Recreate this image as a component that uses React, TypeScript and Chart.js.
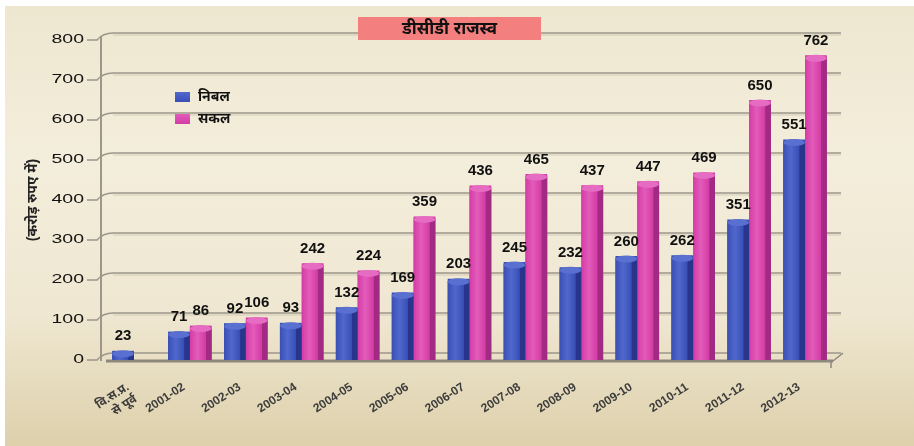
import React, { useEffect, useRef } from 'react';
import { Chart, registerables } from 'chart.js';

Chart.register(...registerables);

// ---------- data ----------
const categories: (string | string[])[] = [
  ['वि.स.प्र.', 'से पूर्व'],
  '2001-02', '2002-03', '2003-04', '2004-05', '2005-06', '2006-07',
  '2007-08', '2008-09', '2009-10', '2010-11', '2011-12', '2012-13',
];
const netValues: (number | null)[] = [23, 71, 92, 93, 132, 169, 203, 245, 232, 260, 262, 351, 551];
const grossValues: (number | null)[] = [null, 86, 106, 242, 224, 359, 436, 465, 437, 447, 469, 650, 762];
const seriesNames = ['निबल', 'सकल'];
const chartTitle = 'डीसीडी राजस्व';
const yAxisTitle = '(करोड़ रुपए में)';
const yMin = 0;
const yMax = 800;
const yStep = 100;

// ---------- styles ----------
const FONT = '"Liberation Sans", Arial, "Noto Sans", sans-serif';
const seriesStyles = [
  { base: '#3a4fb6', light: '#5068cc', dark: '#27368c', cap: '#5a70d0' },
  { base: '#d53ba5', light: '#e25cbb', dark: '#a12a82', cap: '#e56cc2' },
];

const bgPlugin = {
  id: 'bgPanel',
  beforeDraw(chart: any) {
    const { ctx, width, height } = chart;
    ctx.save();
    ctx.fillStyle = '#ffffff';
    ctx.fillRect(0, 0, width, height);
    const g = ctx.createLinearGradient(0, 6, 0, height);
    g.addColorStop(0, '#eee7d0');
    g.addColorStop(0.35, '#f3eddb');
    g.addColorStop(0.7, '#efe7d1');
    g.addColorStop(1, '#ddd0ab');
    ctx.fillStyle = g;
    ctx.fillRect(5, 6, width - 5, height - 6);
    ctx.restore();
  },
};

const gridPlugin = {
  id: 'grid3d',
  beforeDatasetsDraw(chart: any) {
    const { ctx, chartArea } = chart;
    const { left, right, top, bottom } = chartArea;
    const y = chart.scales.y;
    ctx.save();
    // vertical axis line
    ctx.strokeStyle = '#9c978a';
    ctx.lineWidth = 2;
    ctx.beginPath();
    ctx.moveTo(left - 5, top - 3);
    ctx.lineTo(left - 5, bottom + 1);
    ctx.stroke();
    y.ticks.forEach((t: any) => {
      const py = y.getPixelForValue(t.value);
      ctx.strokeStyle = '#9c978a';
      ctx.lineWidth = 1.6;
      ctx.beginPath();
      ctx.moveTo(left - 19, py);
      ctx.lineTo(left - 9, py);
      ctx.quadraticCurveTo(left - 3, py - 7, left + 7, py - 7);
      ctx.lineTo(right + 8, py - 7);
      ctx.stroke();
      if (t.value !== 0) {
        ctx.strokeStyle = 'rgba(120,110,90,0.25)';
        ctx.lineWidth = 1;
        ctx.beginPath();
        ctx.moveTo(left + 7, py - 5);
        ctx.lineTo(right + 8, py - 5);
        ctx.stroke();
      }
    });
    // floor front edge
    const py0 = y.getPixelForValue(0);
    ctx.strokeStyle = '#8d887c';
    ctx.lineWidth = 3;
    ctx.beginPath();
    ctx.moveTo(left, py0 + 1);
    ctx.lineTo(right, py0 + 1);
    ctx.stroke();
    ctx.lineWidth = 1.5;
    ctx.beginPath();
    ctx.moveTo(right, py0 + 1);
    ctx.lineTo(right + 10, py0 - 7);
    ctx.moveTo(right - 2, py0 + 1);
    ctx.lineTo(right - 2, py0 + 8);
    ctx.stroke();
    // y tick labels (wide face)
    ctx.fillStyle = '#111111';
    ctx.font = `13px ${FONT}`;
    ctx.textAlign = 'right';
    ctx.textBaseline = 'middle';
    y.ticks.forEach((t: any) => {
      const py = y.getPixelForValue(t.value);
      ctx.save();
      ctx.translate(left - 22, py - 0.5);
      ctx.scale(1.5, 1);
      ctx.fillText(String(t.value), 0, 0);
      ctx.restore();
    });
    ctx.restore();
  },
};

const barShadePlugin = {
  id: 'barShade',
  afterDatasetDraw(chart: any, args: any) {
    const { ctx } = chart;
    const st = seriesStyles[args.index];
    ctx.save();
    args.meta.data.forEach((el: any, i: number) => {
      const v = chart.data.datasets[args.index].data[i];
      if (v === null || v === undefined) return;
      const { x, y, base, width } = el.getProps(['x', 'y', 'base', 'width'], true);
      const l = x - width / 2;
      const g = ctx.createLinearGradient(l, 0, l + width, 0);
      g.addColorStop(0, st.base);
      g.addColorStop(0.35, st.light);
      g.addColorStop(0.72, st.base);
      g.addColorStop(0.76, st.dark);
      g.addColorStop(1, st.dark);
      ctx.fillStyle = g;
      ctx.fillRect(l, y + 2, width, base - y - 2);
      ctx.fillStyle = st.cap;
      ctx.beginPath();
      ctx.ellipse(x, y + 3, width / 2, 3.5, 0, 0, Math.PI * 2);
      ctx.fill();
    });
    ctx.restore();
  },
};

const labelPlugin = {
  id: 'valueLabels',
  afterDatasetsDraw(chart: any) {
    const { ctx } = chart;
    ctx.save();
    ctx.font = `bold 15px ${FONT}`;
    ctx.fillStyle = '#111111';
    ctx.textAlign = 'center';
    ctx.textBaseline = 'bottom';
    chart.data.datasets.forEach((ds: any, di: number) => {
      const meta = chart.getDatasetMeta(di);
      meta.data.forEach((el: any, i: number) => {
        const v = ds.data[i];
        if (v === null || v === undefined) return;
        ctx.fillText(String(v), el.x, el.y - 7);
      });
    });
    ctx.restore();
  },
};

const legendTitlePlugin = {
  id: 'legendTitle',
  afterDraw(chart: any) {
    const { ctx, chartArea } = chart;
    ctx.save();
    // legend
    chart.data.datasets.forEach((ds: any, i: number) => {
      const st = seriesStyles[i];
      const bx = chartArea.left + 69;
      const by = chartArea.top + 52 + i * 22;
      const g = ctx.createLinearGradient(0, by, 0, by + 10);
      g.addColorStop(0, st.light);
      g.addColorStop(1, st.base);
      ctx.fillStyle = g;
      ctx.fillRect(bx, by, 15, 10);
      ctx.fillStyle = '#111111';
      ctx.font = `bold 14px ${FONT}`;
      ctx.textAlign = 'left';
      ctx.textBaseline = 'middle';
      ctx.fillText(ds.label, bx + 23, by + 5);
    });
    // title box
    ctx.fillStyle = '#f47f7f';
    ctx.fillRect(358, 17, 183, 23);
    ctx.fillStyle = '#111111';
    ctx.font = `bold 17px ${FONT}`;
    ctx.textAlign = 'center';
    ctx.textBaseline = 'middle';
    ctx.fillText(chartTitle, 449.5, 29);
    ctx.restore();
  },
};

export default function App() {
  const ref = useRef<HTMLCanvasElement>(null);

  useEffect(() => {
    document.body.style.margin = '0';
    const canvas = ref.current;
    if (!canvas) return;
    const chart = new Chart(canvas, {
      type: 'bar',
      data: {
        labels: categories,
        datasets: [
          {
            label: seriesNames[0],
            data: netValues,
            backgroundColor: seriesStyles[0].base,
            categoryPercentage: 0.78,
            barPercentage: 1.0,
          },
          {
            label: seriesNames[1],
            data: grossValues,
            backgroundColor: seriesStyles[1].base,
            categoryPercentage: 0.78,
            barPercentage: 1.0,
          },
        ],
      },
      options: {
        responsive: false,
        animation: false,
        layout: { padding: { top: 40, right: 81, left: 25, bottom: 0 } },
        plugins: {
          legend: { display: false },
          title: { display: false },
          tooltip: { enabled: false },
        },
        scales: {
          x: {
            grid: { display: false },
            border: { display: false },
            ticks: {
              autoSkip: false,
              minRotation: 33,
              maxRotation: 33,
              padding: 12,
              labelOffset: -6,
              color: '#3c3c3c',
              font: { family: FONT, size: 12, weight: 'bold' },
            },
            afterFit: (s: any) => {
              s.height = 86;
            },
          },
          y: {
            min: yMin,
            max: yMax,
            grid: { display: false },
            border: { display: false },
            ticks: {
              stepSize: yStep,
              display: false,
            },
            title: {
              display: true,
              text: yAxisTitle,
              color: '#222222',
              font: { family: FONT, size: 14, weight: 'bold' },
              padding: { top: 0, bottom: 0 },
            },
            afterFit: (s: any) => {
              s.width = 81;
            },
          },
        },
      },
      plugins: [bgPlugin, gridPlugin, barShadePlugin, labelPlugin, legendTitlePlugin],
    } as any);
    return () => chart.destroy();
  }, []);

  return (
    <div style={{ width: 914, height: 446, position: 'relative' }}>
      <canvas ref={ref} width={914} height={446} style={{ display: 'block' }} />
    </div>
  );
}
